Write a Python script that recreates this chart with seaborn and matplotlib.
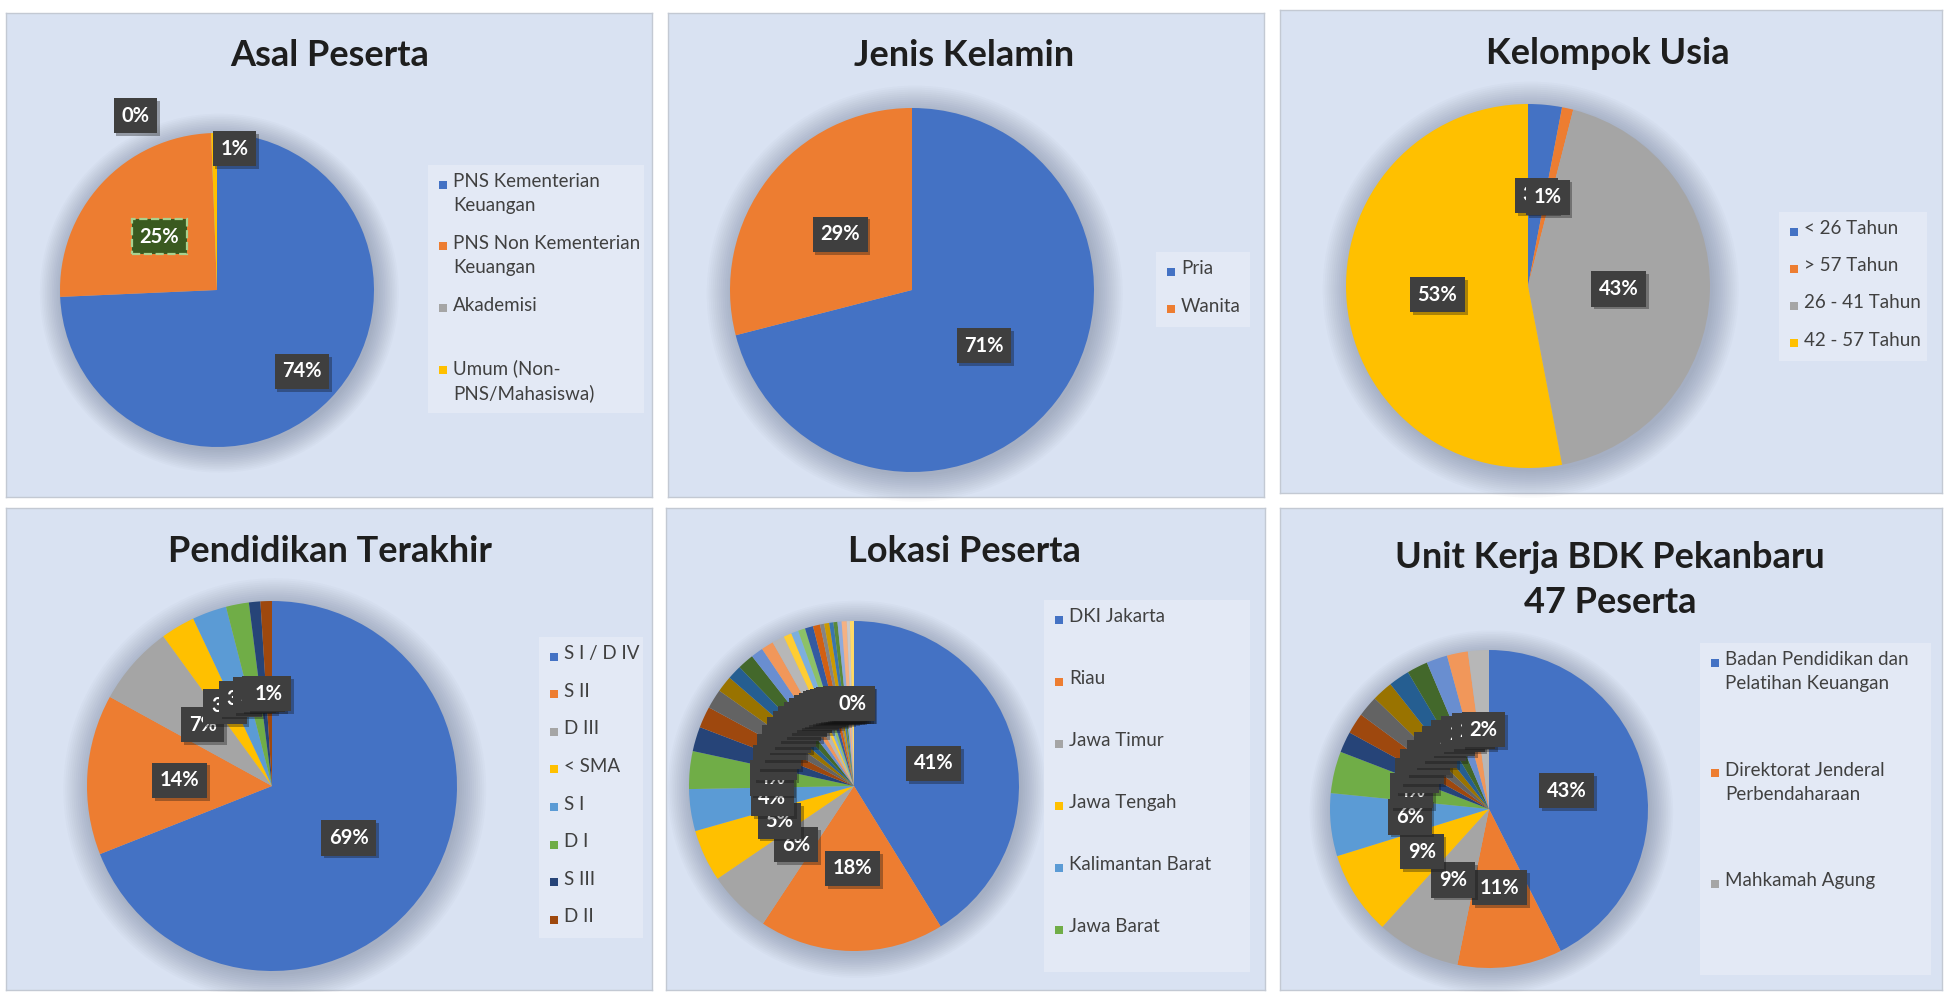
import numpy as np
import matplotlib
matplotlib.use("Agg")
import matplotlib.pyplot as plt
import matplotlib.patheffects as pe
from matplotlib.patches import Rectangle, Circle
import seaborn as sns

# ---- data (persen / jumlah peserta)
asal_labels = ["PNS Kementerian\nKeuangan", "PNS Non Kementerian\nKeuangan",
               "Akademisi", "Umum (Non-\nPNS/Mahasiswa)"]
asal_values = [74.3, 25.1, 0.0, 0.6]

jk_labels = ["Pria", "Wanita"]
jk_values = [71, 29]

usia_labels = ["< 26 Tahun", "> 57 Tahun", "26 - 41 Tahun", "42 - 57 Tahun"]
usia_values = [3, 1, 43, 53]

pend_labels = ["S I / D IV", "S II", "D III", "< SMA", "S I", "D I", "S III", "D II"]
pend_values = [69, 14, 7, 3, 3, 2, 1, 1]

# legenda Excel hanya menampilkan 6 lokasi pertama
lokasi_labels = ["DKI Jakarta", "Riau", "Jawa Timur", "Jawa Tengah",
                 "Kalimantan Barat", "Jawa Barat"]
lokasi_values = [41.2, 18.1, 6.2, 5.1, 4.1, 3.7, 2.4, 2.1, 1.9, 1.6, 1.4, 1.6,
                 1.2, 1.2, 1.2, 0.8, 0.7, 0.7, 0.8, 0.7, 0.4, 0.5, 0.4, 0.4,
                 0.4, 0.5, 0.3, 0.4]

# 47 peserta, legenda hanya menampilkan 3 unit pertama
unit_labels = ["Badan Pendidikan dan\nPelatihan Keuangan",
               "Direktorat Jenderal\nPerbendaharaan", "Mahkamah Agung"]
unit_values = [20, 5, 4, 4, 3, 2, 1, 1, 1, 1, 1, 1, 1, 1, 1]

# warna default Excel
excel = ['#4472C4', '#ED7D31', '#A5A5A5', '#FFC000', '#5B9BD5', '#70AD47',
         '#264478', '#9E480E', '#636363', '#997300', '#255E91', '#43682B',
         '#698ED0', '#F1975A', '#B7B7B7', '#FFCD33', '#7CAFDD', '#8CC168',
         '#335AA1', '#D26012', '#848484', '#CC9A00', '#3A75AE', '#5A8A39',
         '#8FAADC', '#F4B183', '#C9C9C9', '#FFD966', '#9DC3E6', '#A9D18E']

sns.set_theme(style="white")
plt.rcParams['font.family'] = ['Lato', 'DejaVu Sans']
palette = sns.color_palette(excel)

W, H = 1951, 992
fig = plt.figure(figsize=(W / 100, H / 100), dpi=100, facecolor='white')

PANEL = '#D9E2F2'
LEGBOX = '#E3E9F5'


def frect(x0, y0, x1, y1):
    return [x0 / W, 1 - y1 / H, (x1 - x0) / W, (y1 - y0) / H]


def panel(box):
    ax = fig.add_axes(frect(*box))
    ax.set_facecolor(PANEL)
    ax.set_xticks([])
    ax.set_yticks([])
    for s in ax.spines.values():
        s.set_color('#C3C9D3')
        s.set_linewidth(1)
    return ax


def title(x, y, txt):
    fig.text(x / W, 1 - y / H, txt, ha='center', va='center', fontsize=26,
             fontweight='bold', color='#1E1E1E', linespacing=1.42)


def legend(box, labels, colors, fs=13.5):
    x0, y0, x1, y1 = box
    fig.patches.append(Rectangle((x0 / W, 1 - y1 / H), (x1 - x0) / W, (y1 - y0) / H,
                                 transform=fig.transFigure, fc=LEGBOX, ec='none'))
    slot = (y1 - y0) / len(labels)
    for i, (lab, col) in enumerate(zip(labels, colors)):
        yc = y0 + 19.5 + i * slot
        fig.patches.append(Rectangle(((x0 + 11) / W, 1 - (yc + 4) / H), 8 / W, 8 / H,
                                     transform=fig.transFigure, fc=col, ec='none'))
        fig.text((x0 + 25) / W, 1 - (yc - 11.5) / H, lab, ha='left', va='top',
                 fontsize=fs, color='#404040', linespacing=1.5)


def pie(cx, cy, r, values, pctdist=0.5):
    m = 1.35
    ax = fig.add_axes(frect(cx - m * r, cy - m * r, cx + m * r, cy + m * r))
    # bayangan lembut di sekitar pie
    for k in range(14):
        ax.add_patch(Circle((0.015, -0.02), 1 + 0.011 * k, fc='#34425F',
                            ec='none', alpha=0.025, zorder=0))
    wedges, _, autos = ax.pie(values, colors=palette[:len(values)], startangle=90,
                              counterclock=False, radius=1, autopct='%.0f%%',
                              pctdistance=pctdist,
                              wedgeprops=dict(linewidth=0),
                              textprops=dict(color='white', fontsize=14.5,
                                             fontweight='bold'))
    for t in autos:
        t.set_bbox(dict(boxstyle='square,pad=0.38', fc='#3F3F3F', ec='none'))
        t.get_bbox_patch().set_path_effects(
            [pe.SimplePatchShadow(offset=(2, -2), alpha=0.35), pe.Normal()])
    ax.set_xlim(-m, m)
    ax.set_ylim(-m, m)
    ax.axis('off')
    return ax, wedges, autos


def place(wedges, autos, i, dist):
    w = wedges[i]
    th = np.deg2rad((w.theta1 + w.theta2) / 2)
    autos[i].set_position((dist * np.cos(th), dist * np.sin(th)))


# ---- panel
boxes = [(6, 13, 652, 497), (668, 13, 1264, 497), (1280, 10, 1942, 493),
         (6, 508, 652, 990), (666, 508, 1265, 990), (1280, 508, 1942, 990)]
for b in boxes:
    panel(b)

# 1. Asal Peserta
title(330, 55, "Asal Peserta")
ax, wd, at = pie(217, 290, 157, asal_values)
place(wd, at, 0, 0.75)
at[2].set_position((-0.52, 1.11))
at[3].set_position((0.11, 0.90))
at[1].set_bbox(dict(boxstyle='square,pad=0.38', fc='#3A5A20', ec='#A9D18E',
                    ls='--', lw=1.6))
legend((428, 165, 644, 413), asal_labels, palette[:4])

# 2. Jenis Kelamin
title(964, 55, "Jenis Kelamin")
pie(912, 290, 182, jk_values)
legend((1156, 252, 1250, 327), jk_labels, palette[:2])

# 3. Kelompok Usia
title(1608, 53, "Kelompok Usia")
pie(1528, 286, 182, usia_values)
legend((1779, 212, 1927, 361), usia_labels, palette[:4])

# 4. Pendidikan Terakhir
title(330, 552, "Pendidikan Terakhir")
pie(272, 786, 185, pend_values)
legend((539, 637, 643, 938), pend_labels, palette[:8])

# 5. Lokasi Peserta
title(964, 552, "Lokasi Peserta")
pie(854, 786, 165, lokasi_values)
legend((1044, 600, 1250, 972), lokasi_labels, palette[:6])

# 6. Unit Kerja
title(1610, 580, "Unit Kerja BDK Pekanbaru\n47 Peserta")
pie(1489, 809, 159, unit_values)
legend((1700, 643, 1931, 975), unit_labels, palette[:3])

fig.savefig("out.png", dpi=100, facecolor='white')
